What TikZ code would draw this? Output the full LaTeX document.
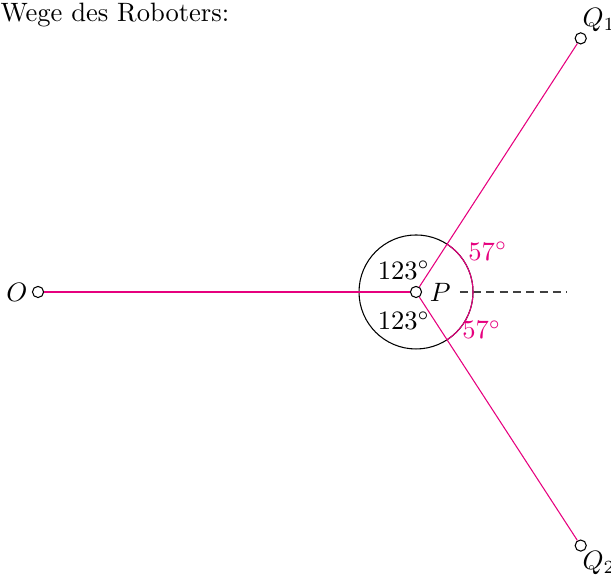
\documentclass[tikz,border=0pt]{standalone}
\usepackage{amsmath,amssymb}
\definecolor{wegpink}{RGB}{230,0,126}
\usetikzlibrary{arrows.meta,positioning,calc}

\begin{document}
\begin{tikzpicture}[
        pkt/.style={draw, circle, fill=white, inner sep=0pt, minimum size=4.2pt},
        weg/.style={wegpink, thin},
        winkel/.style={font=\normalsize}
      ]
        \useasboundingbox (-5.503,-3.796) rectangle (2.579,3.862);
        \node[anchor=base west, inner sep=0pt] (titel) at (-5.503,3.584) {Wege des Roboters:};
        % Kreis um P
        \draw (0,0) circle (0.754);
        \draw[black!75, dash pattern=on 3pt off 2pt] (0.58,0) -- (2.0,0);
        \draw[weg] (-57:0.754) arc (-57:57:0.754);
        % Punkte
        \node[pkt] (P) at (0,0) {};
        \node[pkt] (O) at (-5,0) {};
        \node[pkt] (Q1) at (57:4) {};
        \node[pkt] (Q2) at (-57:4) {};
        \draw[weg] (O) -- (P); \draw[weg] (P) -- (Q1);
        \draw[weg] (P) -- (Q2);
        \node (lP) at (0.32,0) {$P$};
        \node (lO) at (-5.28,0) {$O$};
        \node (lQ1) at (2.42,3.6) {$Q_1$};
        \node (lQ2) at (2.42,-3.58) {$Q_2$};
        % Winkel
        \node[winkel] (w1) at (-0.16,0.29) {$123^\circ$};
        \node[winkel] (w2) at (-0.16,-0.38) {$123^\circ$};
        \node[winkel, wegpink] (w3) at (0.95,0.54) {$57^\circ$};
        \node[winkel, wegpink] (w4) at (0.87,-0.50) {$57^\circ$};
      \end{tikzpicture}
\end{document}
